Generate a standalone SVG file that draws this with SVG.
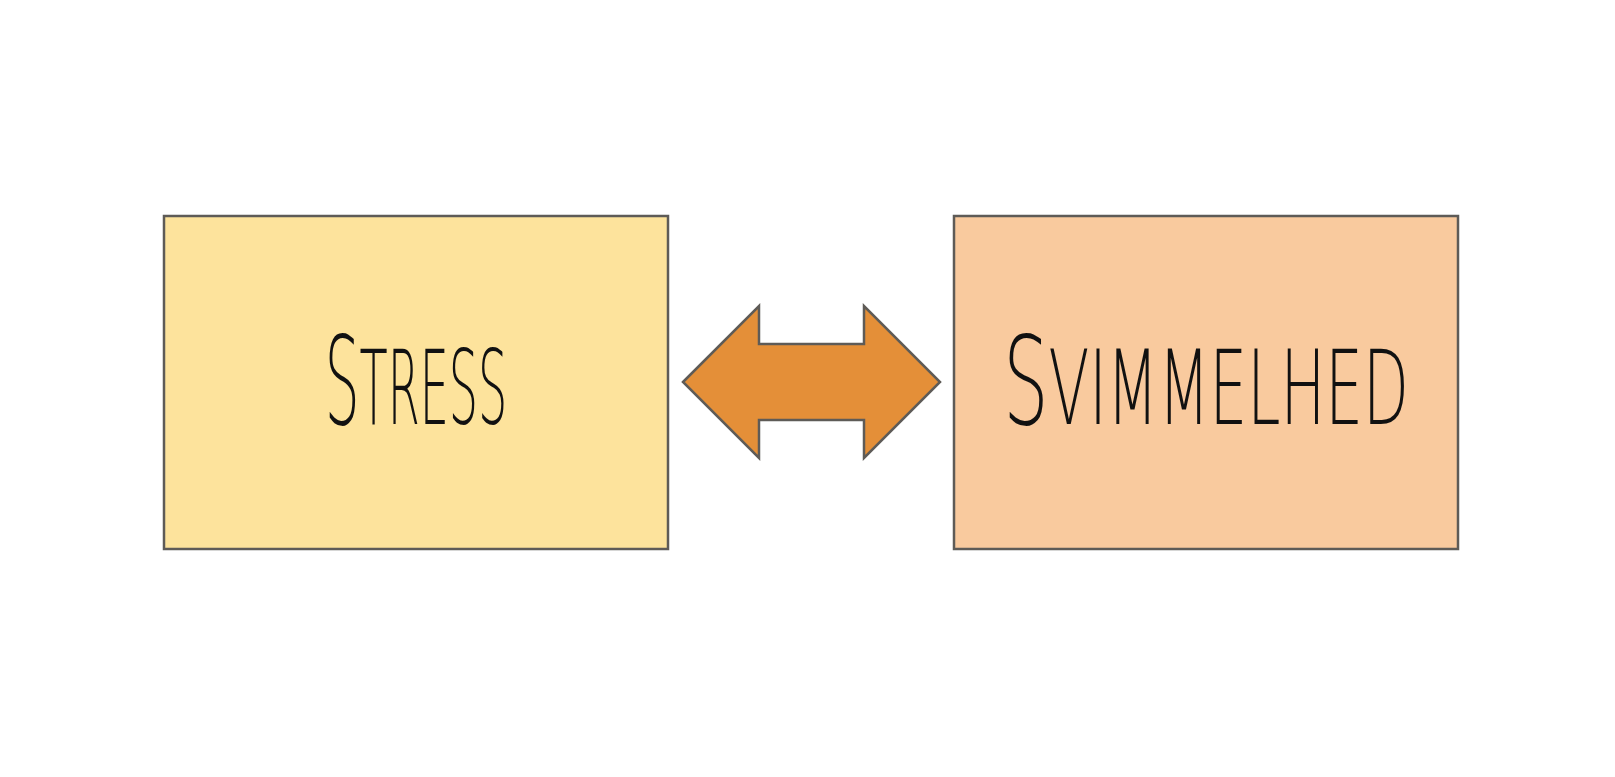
<svg xmlns="http://www.w3.org/2000/svg" width="1615" height="777" viewBox="0 0 1615 777">
<style>
.box{stroke:#5e5b57;stroke-width:2.5}
.lbl{font-family:"DejaVu Sans",sans-serif;font-weight:200;fill:#111}
.cap{font-size:123px}
.sc{font-size:147px;font-variant:small-caps}
</style>
<rect width="1615" height="777" fill="#ffffff"/>
<g id="node-stress">
<rect class="box" x="164" y="216" width="504" height="333" fill="#fde39c"/>
<text class="lbl" transform="translate(416,424) scale(0.446,1)" x="0" y="0" text-anchor="middle"><tspan class="cap">S</tspan><tspan class="sc">tress</tspan></text>
</g>
<g id="node-svimmelhed">
<rect class="box" x="954" y="216" width="504" height="333" fill="#f9ca9e"/>
<text class="lbl" transform="translate(1206,424) scale(0.58,1)" x="0" y="0" text-anchor="middle"><tspan class="cap">S</tspan><tspan class="sc">vimmelhed</tspan></text>
</g>
<g id="connectors">
<polygon points="683,382 759,306 759,344 864,344 864,306 940,382 864,458 864,420 759,420 759,458" fill="#e48f38" stroke="#5e5b57" stroke-width="2.5" stroke-linejoin="miter"/>
</g>
</svg>
